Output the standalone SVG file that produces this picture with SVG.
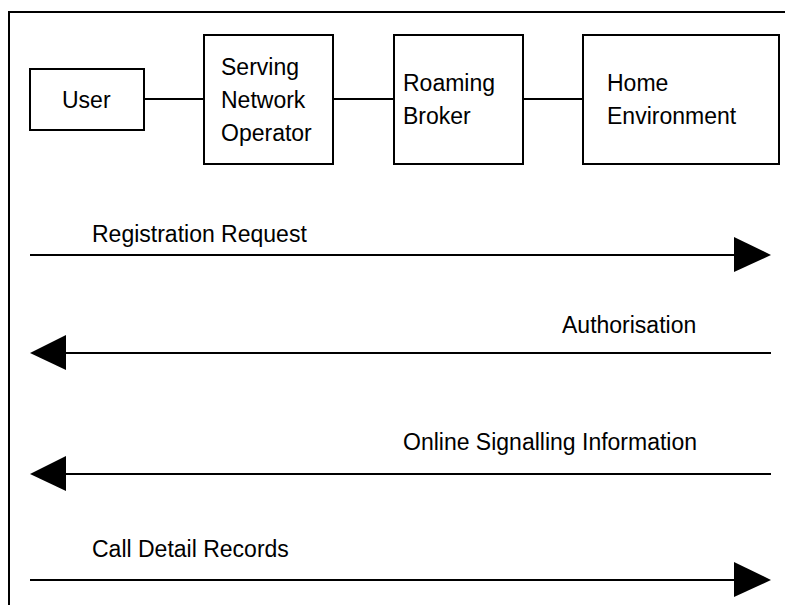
<svg xmlns="http://www.w3.org/2000/svg" width="785" height="605" viewBox="0 0 785 605">
<style>
.box{fill:#fff;stroke:#000;stroke-width:2}
.t{font-family:"Liberation Sans",Arial,sans-serif;font-size:23px;fill:#000}
.ln{stroke:#000;stroke-width:2;fill:none}
.ah{fill:#000}
</style>
<rect x="0" y="0" width="785" height="605" fill="#fff"/>
<rect id="frame" x="9" y="12" width="790" height="610" fill="none" stroke="#000" stroke-width="2"/>
<g id="connectors">
<line class="ln" x1="144" y1="99" x2="204" y2="99"/>
<line class="ln" x1="333" y1="99" x2="394" y2="99"/>
<line class="ln" x1="523" y1="99" x2="583" y2="99"/>
<line class="ln" x1="30" y1="255" x2="736" y2="255"/>
<polygon class="ah" points="734,237 771,255 734,272"/>
<line class="ln" x1="64" y1="353" x2="771" y2="353"/>
<polygon class="ah" points="66,335 30,353 66,370"/>
<line class="ln" x1="64" y1="474" x2="771" y2="474"/>
<polygon class="ah" points="66,456 30,474 66,491"/>
<line class="ln" x1="30" y1="580" x2="736" y2="580"/>
<polygon class="ah" points="734,562 771,580 734,597"/>
</g>
<g id="user">
<rect class="box" x="30" y="69" width="114" height="61"/>
<text class="t" x="62" y="108">User</text>
</g>
<g id="serving">
<rect class="box" x="204" y="35" width="129" height="129"/>
<text class="t" x="221" y="75">Serving</text>
<text class="t" x="221" y="108">Network</text>
<text class="t" x="221" y="141">Operator</text>
</g>
<g id="broker">
<rect class="box" x="394" y="35" width="129" height="129"/>
<text class="t" x="403" y="91">Roaming</text>
<text class="t" x="403" y="124">Broker</text>
</g>
<g id="home">
<rect class="box" x="583" y="35" width="196" height="129"/>
<text class="t" x="607" y="91">Home</text>
<text class="t" x="607" y="124">Environment</text>
</g>
<g id="labels">
<text class="t" x="92" y="242">Registration Request</text>
<text class="t" x="562" y="333">Authorisation</text>
<text class="t" x="403" y="450">Online Signalling Information</text>
<text class="t" x="92" y="557">Call Detail Records</text>
</g>
</svg>
